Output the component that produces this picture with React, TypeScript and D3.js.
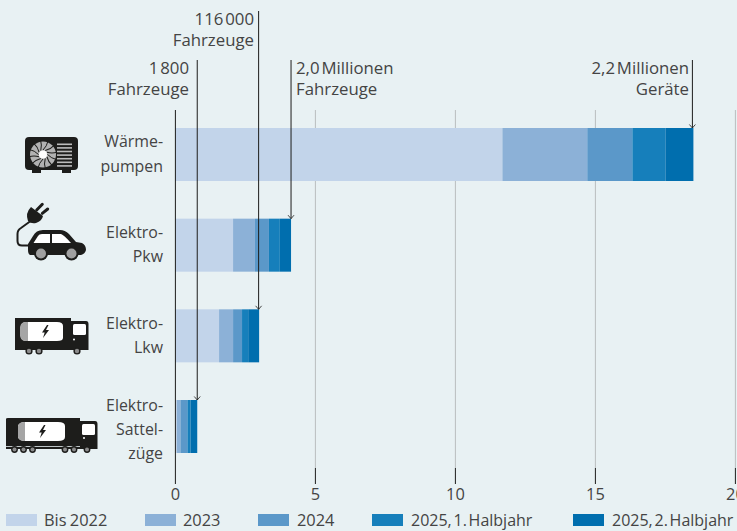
import React from "react";
import * as d3 from "d3";

const W = 737, H = 531;
const categories = ["Wärmepumpen", "Elektro-Pkw", "Elektro-Lkw", "Elektro-Sattelzüge"];
const categoryLines = [["Wärme-", "pumpen"], ["Elektro-", "Pkw"], ["Elektro-", "Lkw"], ["Elektro-", "Sattel-", "züge"]];
const seriesNames = ["Bis 2022", "2023", "2024", "2025, 1. Halbjahr", "2025, 2. Halbjahr"];
const seriesColors = ["#c2d4ea", "#8cb1d7", "#5b98c9", "#167fbb", "#006eae"];
const bis2022 = [11.68, 2.06, 1.56, 0.05];
const y2023 = [3.03, 0.78, 0.5, 0.13];
const y2024 = [1.61, 0.5, 0.32, 0.25];
const h1_2025 = [1.18, 0.39, 0.22, 0.11];
const h2_2025 = [1.0, 0.4, 0.39, 0.24];
const ticks = [0, 5, 10, 15, 20];
const calloutText = [["2,2 Millionen", "Geräte"], ["2,0 Millionen", "Fahrzeuge"], ["116 000", "Fahrzeuge"], ["1 800", "Fahrzeuge"]];

const font = "'Open Sans', 'Noto Sans', sans-serif";
const textCol = "#444444";
const ink = "#1d1d1b";
const fs = 16.4;
const lh = 21;

const x = d3.scaleLinear().domain([0, 20]).range([175.4, 735.4]);
const y = d3.scaleBand<string>().domain(categories).range([128, 453]).paddingInner(0.4155).paddingOuter(0);

function AC() {
  const slits = d3.range(0, 360, 30);
  return (
    <g>
      <rect x={25} y={137} width={53} height={33} rx={4} fill={ink} />
      <rect x={32} y={168} width={9} height={5} fill={ink} />
      <rect x={62} y={168} width={9} height={5} fill={ink} />
      <circle cx={43} cy={154.5} r={13} fill="#b2b2b2" />
      {slits.map(a => (
        <path key={a} transform={`rotate(${a} 43 154.5)`} d="M43 150 Q47 146 48 141" fill="none" stroke={ink} strokeWidth={1} />
      ))}
      <circle cx={43} cy={154.5} r={4} fill="#fff" />
      {d3.range(0, 7).map(i => (
        <rect key={i} x={57} y={143.5 + i * 3.6} width={15} height={1.6} fill="#bcbcbc" />
      ))}
    </g>
  );
}

function Car() {
  return (
    <g>
      <path d="M28 244 L33 236 Q36 230 43 230 L60 230 Q65 230 69 234 L76 242 L82 243 Q86 245 86 250 Q85 254 81 255 L30 255 Q28 254 28 250 Z" fill={ink} />
      <path d="M33.5 243 L38 236 Q39 234 42 234 L50 234 L50 243 Z" fill="#fff" />
      <path d="M52 234 L61 234 Q64 235 71 243 L52 243 Z" fill="#fff" />
      <circle cx={41} cy={253.5} r={7} fill={ink} />
      <circle cx={41} cy={253.5} r={5} fill="#a0a0a0" />
      <circle cx={71.5} cy={253.5} r={7} fill={ink} />
      <circle cx={71.5} cy={253.5} r={5} fill="#a0a0a0" />
      <path d="M29 245.5 L22 245.5 Q17.5 245.5 17.5 241 L17.5 234 Q17.5 230 21 228 L32 220" fill="none" stroke={ink} strokeWidth={2} />
      <path d="M31 207 L43 216 Q42 221 36 223 Q31 224 28 221 Q25 213 31 207 Z" fill={ink} />
      <path d="M36.7 210 L42.3 204.3 M42.3 213.3 L47.7 209" stroke={ink} strokeWidth={3} strokeLinecap="round" />
    </g>
  );
}

function Bolt({ cx, cy }: { cx: number; cy: number }) {
  return <path transform={`translate(${cx} ${cy})`} d="M1.5 -6.5 L-3.5 1 L-0.8 1 L-2.5 6.5 L3.5 -1.5 L0.5 -1.5 L3 -6.5 Z" fill={ink} />;
}

function Lkw() {
  return (
    <g>
      <path d="M15 318 L71 318 L71 321 L86 321 Q88.5 321 88.5 324 L88.5 350 L15 350 Z" fill={ink} />
      <rect x={73} y={324} width={13} height={11} rx={1.5} fill="#fff" />
      <circle cx={74} cy={339.5} r={1} fill="#fff" />
      <path d="M27 322 L57 322 Q63 322 63 326 L63 338 Q63 341 57 341 L27 341 Q21 341 21 337 L21 326 Q21 322 27 322 Z" fill="#fff" />
      <path d="M28 322 L26 322 Q21 322 20 327 L20 336 Q21 341 26 341 L28 341 Z" fill="#a5a5a5" />
      <Bolt cx={45.5} cy={331.5} />
      {[29, 39, 77].map(c => (
        <g key={c}><circle cx={c} cy={351} r={3.6} fill={ink} /><circle cx={c} cy={351} r={2.2} fill="#8c8c8c" /></g>
      ))}
    </g>
  );
}

function Sattel() {
  return (
    <g>
      <path d="M6 419 Q6 418 8 418 L80 418 L80 421 L95 421 Q97.5 421 97.5 424 L97.5 449 L6 449 Z" fill={ink} />
      <rect x={82} y={424} width={13} height={11} rx={1.5} fill="#fff" />
      <circle cx={84} cy={438} r={1} fill="#fff" />
      <rect x={6} y={446} width={74} height={0.8} fill="#e8f1f3" />
      <path d="M25 422 L58 422 Q65 422 65 426 L65 437 Q65 441 58 441 L25 441 Q19 441 18 437 L18 426 Q19 422 25 422 Z" fill="#fff" />
      <path d="M25 422 Q19 422 18 426 L18 437 Q19 441 25 441 Z" fill="#a5a5a5" />
      <Bolt cx={42.5} cy={431.5} />
      {[14.5, 23.5, 32.5, 65, 74, 87].map(c => (
        <g key={c}><circle cx={c} cy={449.5} r={3.4} fill={ink} /><circle cx={c} cy={449.5} r={2} fill="#8c8c8c" /></g>
      ))}
    </g>
  );
}

export default function App() {
  const series = [bis2022, y2023, y2024, h1_2025, h2_2025];
  const rows = categories.map((c, i) => {
    const o: Record<string, number | string> = { cat: c };
    seriesNames.forEach((s, j) => { o[s] = series[j][i]; });
    return o;
  });
  const stacked = d3.stack<any>().keys(seriesNames)(rows);
  const totals = categories.map((_, i) => stacked[4][i][1]);
  const bh = y.bandwidth();

  const callouts = [
    { i: 0, top: 60, anchor: "end", lx: 689, ly: 74, off: -1 },
    { i: 1, top: 60, anchor: "start", lx: 296, ly: 74, off: 0 },
    { i: 2, top: 11, anchor: "end", lx: 254, ly: 25, off: -0.5 },
    { i: 3, top: 60, anchor: "end", lx: 189, ly: 74, off: 0 },
  ];
  const legendSwatch = [6, 145, 258, 372, 573];
  const legendText = [44, 183, 297, 411, 612];

  return (
    <svg width={W} height={H} viewBox={`0 0 ${W} ${H}`} style={{ position: "absolute", left: 0, top: 0, background: "#e8f1f3", fontFamily: font }}>
      {ticks.slice(1).map(t => (
        <g key={t}>
          <line x1={x(t)} x2={x(t)} y1={110} y2={468} stroke="#b9bdbf" strokeWidth={1} />
          <line x1={x(t)} x2={x(t)} y1={468} y2={484} stroke={ink} strokeWidth={1} />
        </g>
      ))}
      {stacked.map((s, j) => (
        <g key={s.key} fill={seriesColors[j]}>
          {s.map((d, i) => (
            <rect key={i} x={x(d[0])} width={x(d[1]) - x(d[0])} y={y(categories[i])} height={bh} />
          ))}
        </g>
      ))}
      <line x1={x(0)} x2={x(0)} y1={110} y2={484} stroke={ink} strokeWidth={1} />
      {ticks.map(t => (
        <text key={t} x={x(t)} y={500} textAnchor="middle" fontSize={fs} fill={textCol}>{t}</text>
      ))}
      {categoryLines.map((lines, i) => {
        const cy = (y(categories[i]) as number) + bh / 2;
        const y0 = lines.length === 3 ? cy - 16 : cy - 7;
        return lines.map((l, k) => (
          <text key={k} x={163} y={y0 + k * 24.2} textAnchor="end" fontSize={15.9} fill={textCol}>{l}</text>
        ));
      })}
      {callouts.map((c, n) => {
        const px = x(totals[c.i]) + c.off;
        const by = y(categories[c.i]) as number;
        return (
          <g key={n}>
            <line x1={px} x2={px} y1={c.top} y2={by} stroke={ink} strokeWidth={1} />
            <path d={`M${px - 3} ${by - 3.5} L${px} ${by} L${px + 3} ${by - 3.5}`} fill="none" stroke={ink} strokeWidth={0.8} />
            {calloutText[n].map((l, k) => (
              <text key={k} x={c.lx} y={c.ly + k * lh} textAnchor={c.anchor as any} fontSize={16.8} fill={textCol} wordSpacing={-2.5}>{l}</text>
            ))}
          </g>
        );
      })}
      <AC />
      <Car />
      <Lkw />
      <Sattel />
      {seriesNames.map((s, j) => (
        <g key={s}>
          <rect x={legendSwatch[j]} y={514} width={31} height={12} fill={seriesColors[j]} />
          <text x={legendText[j]} y={526} fontSize={j >= 3 ? 16 : fs} fill={textCol} wordSpacing={j >= 3 ? -2.4 : -1}>{s}</text>
        </g>
      ))}
    </svg>
  );
}
